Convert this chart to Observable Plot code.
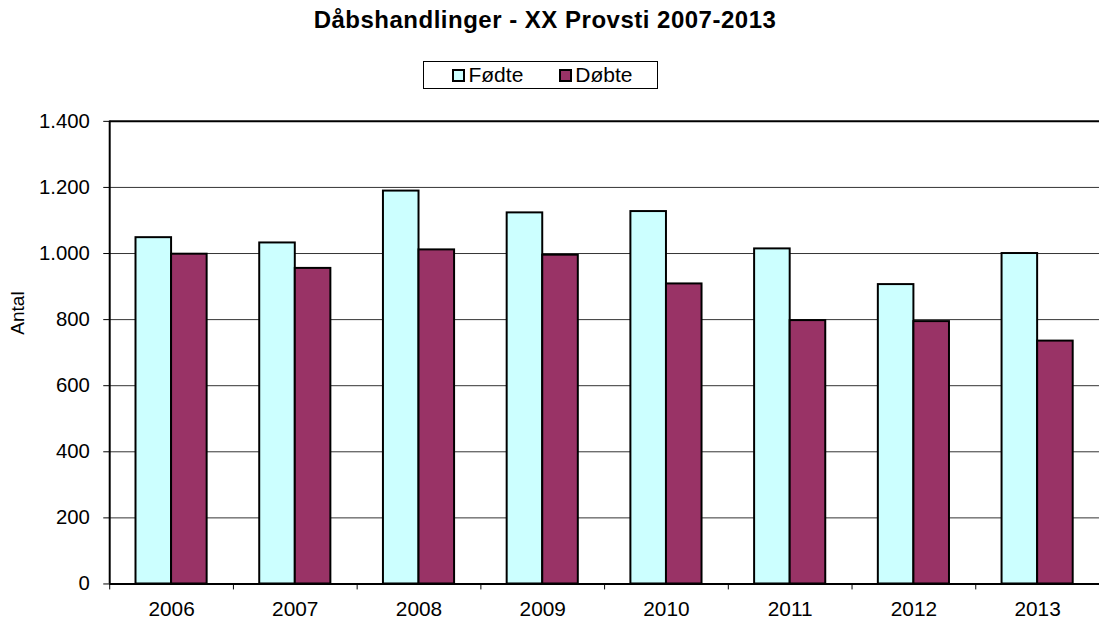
<!DOCTYPE html>
<html>
<head>
<meta charset="utf-8">
<script src="https://cdn.jsdelivr.net/npm/d3@7"></script>
<script src="https://cdn.jsdelivr.net/npm/@observablehq/plot@0.6"></script>
<style>
  html, body { margin: 0; padding: 0; overflow: hidden; background: #fff; width: 1099px; height: 622px; }
  body { position: relative; font-family: "Liberation Sans", Arial, sans-serif; color: #000; }
  #title { position: absolute; left: 245px; width: 600px; top: 6px; text-align: center; font-size: 24px; letter-spacing: 0.5px; font-weight: bold; line-height: 28px; white-space: nowrap; }
  #legend { position: absolute; left: 423px; top: 61px; width: 235px; height: 28px; border: 1px solid #000; box-sizing: border-box; display: flex; align-items: center; justify-content: center; font-size: 21px; gap: 36px; padding-left: 4px; }
  .item { display: flex; align-items: center; }
  .sw { width: 13px; height: 13px; border: 2px solid #000; box-sizing: border-box; margin-right: 3px; }
  #ylabel { position: absolute; left: 18px; top: 313px; transform: translate(-50%, -50%) rotate(-90deg); font-size: 19px; white-space: nowrap; line-height: 20px; }
  #chart { position: absolute; left: 0; top: 100px; }
</style>
</head>
<body>
<div id="title">Dåbshandlinger - XX Provsti 2007-2013</div>
<div id="legend"></div>
<div id="chart"></div>
<div id="ylabel">Antal</div>
<script>
const years = [2006, 2007, 2008, 2009, 2010, 2011, 2012, 2013];
const fodte = [1048, 1032, 1189, 1123, 1127, 1014, 906, 1000];
const dobte = [998, 955, 1011, 995, 908, 797, 794, 735];
const series = ["Fødte", "Døbte"];
const colors = ["#CCFFFF", "#993366"];
const yTicks = [0, 200, 400, 600, 800, 1000, 1200, 1400];

const data = years.flatMap((y, i) => [
  {year: y, series: series[0], value: fodte[i]},
  {year: y, series: series[1], value: dobte[i]}
]);

const bw = 0.2875; // bar width as a fraction of a category
const dk = d3.formatLocale({decimal: ",", thousands: ".", grouping: [3], currency: ["", ""]}).format(",");

const legend = document.getElementById("legend");
series.forEach((s, i) => {
  const it = document.createElement("div");
  it.className = "item";
  const sw = document.createElement("div");
  sw.className = "sw";
  sw.style.background = colors[i];
  it.appendChild(sw);
  it.appendChild(document.createTextNode(s));
  legend.appendChild(it);
});

const boundaries = years.map(y => y - 0.5).concat([years[years.length - 1] + 0.5]);

const chart = Plot.plot({
  width: 1107,
  height: 522,
  marginLeft: 110,
  marginRight: 0,
  marginTop: 21,
  marginBottom: 35,
  style: {fontFamily: "'Liberation Sans', Arial, sans-serif", fontSize: "20px", color: "#000", background: "transparent", overflow: "visible"},
  x: {domain: [boundaries[0], boundaries[boundaries.length - 1]], label: null},
  y: {domain: [0, 1400], label: null},
  color: {domain: series, range: colors},
  marks: [
    Plot.gridY(yTicks.slice(1, -1), {stroke: "#333", strokeOpacity: 1}),
    Plot.rectY(data, {
      x1: d => d.series === series[0] ? d.year - bw : d.year,
      x2: d => d.series === series[0] ? d.year : d.year + bw,
      y1: 0,
      y2: "value",
      fill: "series",
      stroke: "#000",
      strokeWidth: 2
    }),
    Plot.ruleY([1400], {stroke: "#000", strokeWidth: 2}),
    Plot.ruleY([0], {stroke: "#000", strokeWidth: 2}),
    Plot.ruleX([boundaries[0]], {y1: 0, y2: 1400, stroke: "#000", strokeWidth: 2}),
    Plot.axisY({ticks: yTicks, tickFormat: dk, tickSize: 6, tickPadding: 14, fontSize: 20.5, label: null}),
    Plot.axisX({ticks: boundaries, tickFormat: () => "", tickSize: 6, label: null}),
    Plot.axisX({ticks: years, tickFormat: d => String(d), tickSize: 0, tickPadding: 17, fontSize: 21, label: null})
  ]
});
document.getElementById("chart").appendChild(chart);
</script>
</body>
</html>
